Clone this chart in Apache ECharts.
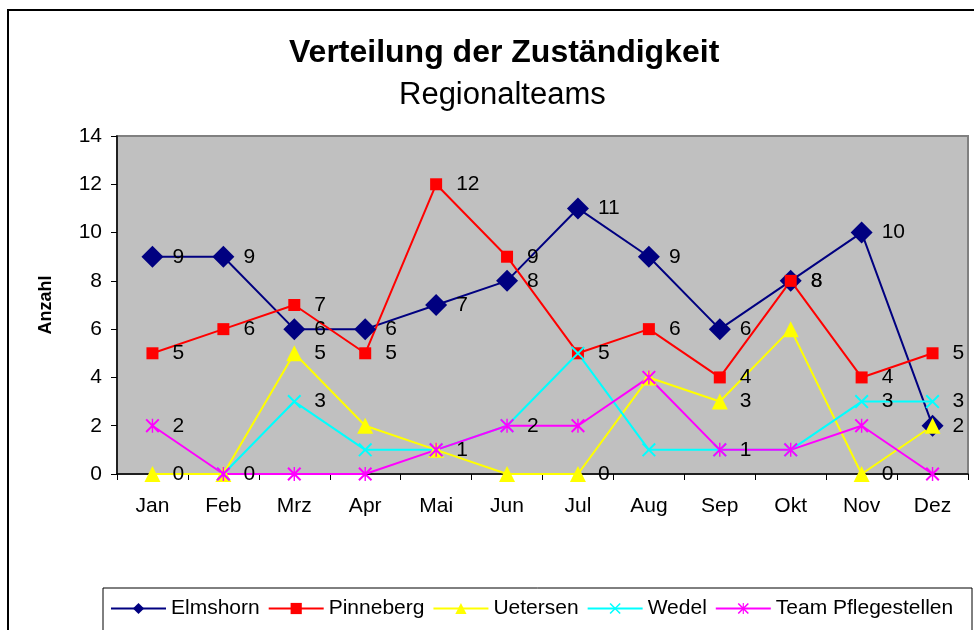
<!DOCTYPE html>
<html>
<head>
<meta charset="utf-8">
<script src="https://cdn.jsdelivr.net/npm/echarts@6/dist/echarts.min.js"></script>
<style>
  html, body { margin: 0; padding: 0; background: #fff; }
  #chart { width: 974px; height: 630px; }
</style>
</head>
<body>
<div id="chart"></div>
<script>
// Monate
var months = ['Jan', 'Feb', 'Mrz', 'Apr', 'Mai', 'Jun', 'Jul', 'Aug', 'Sep', 'Okt', 'Nov', 'Dez'];
var yTicks = [0, 2, 4, 6, 8, 10, 12, 14];

// Werte je Team
var elmshorn  = [9, 9, 6, 6, 7, 8, 11, 9, 6, 8, 10, 2];
var pinneberg = [5, 6, 7, 5, 12, 9, 5, 6, 4, 8, 4, 5];
var uetersen  = [0, 0, 5, 2, 1, 0, 0, 4, 3, 6, 0, 2];
var wedel     = [null, 0, 3, 1, 1, 2, 5, 1, 1, 1, 3, 3];
var pflege    = [2, 0, 0, 0, 1, 2, 2, 4, 1, 1, 2, 0];

// welche Datenbeschriftungen sichtbar sind (1 = ja)
var lblElmshorn  = [1, 1, 1, 1, 1, 1, 1, 1, 1, 1, 1, 1];
var lblPinneberg = [1, 1, 1, 1, 1, 1, 1, 1, 1, 1, 1, 1];
var lblUetersen  = [1, 1, 1, 0, 1, 0, 1, 0, 1, 0, 1, 0];
var lblWedel     = [0, 0, 1, 0, 0, 1, 0, 0, 1, 0, 1, 1];
var lblPflege    = [1, 0, 0, 0, 0, 0, 0, 0, 0, 0, 0, 0];

var FONT = 'Liberation Sans, Arial, sans-serif';

// Marker als Pfade (x und Stern)
var xPath = 'path://M0,1 L1,0 L10,9 L9,10 Z M9,0 L10,1 L1,10 L0,9 Z';
var starPath = 'path://M0,1 L1,0 L10,9 L9,10 Z M9,0 L10,1 L1,10 L0,9 Z M4.5,0 L5.5,0 L5.5,10 L4.5,10 Z';

function makeData(vals, lbl) {
    var out = [];
    for (var i = 0; i < vals.length; i++) {
        out.push({
            value: vals[i],
            label: { show: !!lbl[i] }
        });
    }
    return out;
}

function mkSeries(name, vals, lbl, color, symbol, size) {
    return {
        name: name,
        type: 'line',
        data: makeData(vals, lbl),
        symbol: symbol,
        symbolSize: size,
        showAllSymbol: true,
        connectNulls: false,
        lineStyle: { color: color, width: 2 },
        itemStyle: { color: color, borderWidth: 0 },
        label: {
            position: 'right',
            distance: 20 - size / 2,   // Text immer ca. 20px rechts vom Punkt
            color: '#000',
            fontFamily: FONT,
            fontSize: 21
        },
        emphasis: { disabled: true },
        animation: false
    };
}

var myChart = echarts.init(document.getElementById('chart'), null, { renderer: 'canvas' });

var option = {
    backgroundColor: '#fff',
    animation: false,
    title: [
        {
            text: 'Verteilung der Zuständigkeit',
            left: 284,
            top: 32,
            textStyle: { fontFamily: FONT, fontSize: 32, fontWeight: 'bold', color: '#000' }
        },
        {
            text: 'Regionalteams',
            left: 394,
            top: 75,
            textStyle: { fontFamily: FONT, fontSize: 31, fontWeight: 'normal', color: '#000' }
        }
    ],
    //Legende unten
    legend: {
        left: 105,
        top: 593,
        itemGap: 8,
        itemWidth: 55,
        itemHeight: 14,
        textStyle: { fontFamily: FONT, fontSize: 21, color: '#000' },
        data: ['Elmshorn', 'Pinneberg', 'Uetersen', 'Wedel', 'Team Pflegestellen']
    },
    grid: {
        left: 117,
        right: 6,
        top: 136,
        bottom: 156,
        show: true,
        backgroundColor: '#C0C0C0',
        borderColor: '#808080',
        borderWidth: 2
    },
    xAxis: {
        type: 'category',
        data: months,
        boundaryGap: true,
        axisLine: { lineStyle: { color: '#000', width: 1.5 } },
        axisTick: { show: true, length: 6, interval: 0, lineStyle: { color: '#000' } },
        axisLabel: { color: '#000', fontFamily: FONT, fontSize: 21, margin: 22 },
        splitLine: { show: false }
    },
    yAxis: {
        type: 'value',
        min: yTicks[0],
        max: yTicks[yTicks.length - 1],
        interval: 2,
        name: 'Anzahl',
        nameLocation: 'middle',
        nameGap: 62,
        nameRotate: 90,
        nameTextStyle: { fontFamily: FONT, fontSize: 18, fontWeight: 'bold', color: '#000' },
        axisLine: { show: true, lineStyle: { color: '#000', width: 1.5 } },
        axisTick: { show: true, length: 6, lineStyle: { color: '#000' } },
        axisLabel: { color: '#000', fontFamily: FONT, fontSize: 21, margin: 15 },
        splitLine: { show: false }
    },
    graphic: [
        {
            type: 'rect',
            shape: { x: 8, y: 10, width: 1000, height: 700 },
            style: { fill: 'none', stroke: '#000', lineWidth: 2 },
            silent: true,
            z: -10
        },
        {
            type: 'rect',
            shape: { x: 103, y: 588, width: 869, height: 60 },
            style: { fill: 'none', stroke: '#000', lineWidth: 1 },
            silent: true,
            z: 10
        }
    ],
    series: [
        mkSeries('Elmshorn', elmshorn, lblElmshorn, '#000080', 'diamond', 22),
        mkSeries('Pinneberg', pinneberg, lblPinneberg, '#FF0000', 'rect', 12),
        mkSeries('Uetersen', uetersen, lblUetersen, '#FFFF00', 'triangle', 16),
        mkSeries('Wedel', wedel, lblWedel, '#00FFFF', xPath, 14),
        mkSeries('Team Pflegestellen', pflege, lblPflege, '#FF00FF', starPath, 14)
    ]
};

myChart.setOption(option);
</script>
</body>
</html>
